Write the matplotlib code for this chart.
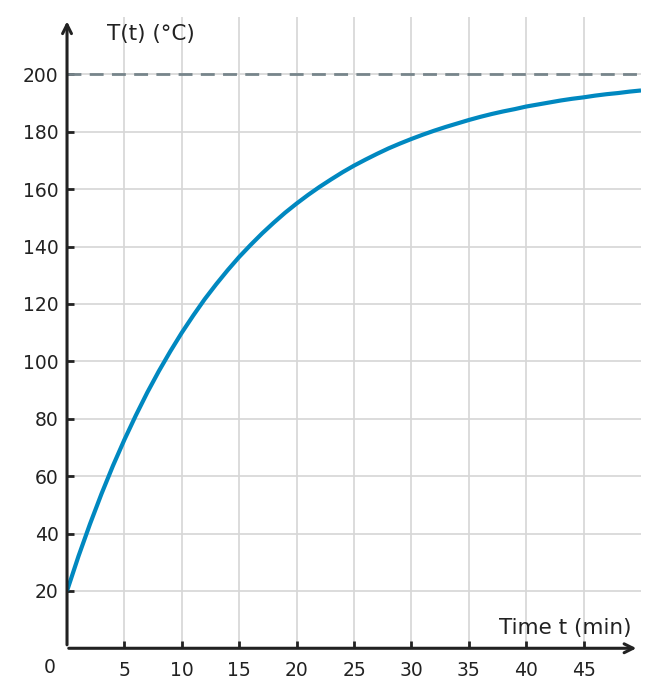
import matplotlib
matplotlib.use("Agg")
import matplotlib.pyplot as plt

# time in minutes and temperature
time_min = list(range(0, 51))
temp_c = [20.0, 32.1, 43.3, 53.8, 63.6, 72.7, 81.2, 89.2, 96.6, 103.5,
          110.0, 116.0, 121.7, 126.9, 131.8, 136.4, 140.6, 144.6, 148.3, 151.8,
          155.0, 158.0, 160.8, 163.4, 165.9, 168.2, 170.3, 172.3, 174.2, 175.9,
          177.5, 179.0, 180.4, 181.7, 182.9, 184.1, 185.2, 186.2, 187.1, 187.9,
          188.8, 189.5, 190.2, 190.9, 191.5, 192.0, 192.6, 193.1, 193.5, 194.0,
          194.4]
ambient = 200

x_ticks = [5, 10, 15, 20, 25, 30, 35, 40, 45]
y_ticks = [20, 40, 60, 80, 100, 120, 140, 160, 180, 200]

plt.rcParams['font.family'] = ['DejaVu Sans']
fig = plt.figure(figsize=(6.59, 6.97), dpi=100)
ax = fig.add_axes([0.1017, 0.0699, 0.8710, 0.9057])
ax.set_xlim(0, 50)
ax.set_ylim(0, 220)

ax.set_xticks(x_ticks)
ax.set_yticks(y_ticks)
ax.grid(True, color='#d6d6d6', linewidth=1.2)
ax.set_axisbelow(True)
for s in ax.spines.values():
    s.set_visible(False)
ax.tick_params(axis='both', direction='in', length=5, width=2, color='#222222',
               labelsize=13.5, labelcolor='#222222')
ax.tick_params(axis='x', pad=9)
ax.tick_params(axis='y', pad=6)

ax.axhline(ambient, color='#77858b', linestyle=(0, (5, 3)), linewidth=2, zorder=2)
ax.plot(time_min, temp_c, color='#0088c0', linewidth=3, zorder=3, solid_capstyle='butt')

# axes with arrows
ax.annotate('', xy=(0, 218.5), xytext=(0, 1.2),
            arrowprops=dict(arrowstyle='->', color='#222222', lw=2.2,
                            shrinkA=0, shrinkB=0, mutation_scale=16),
            annotation_clip=False, zorder=5)
ax.annotate('', xy=(49.6, 0), xytext=(0.15, 0),
            arrowprops=dict(arrowstyle='->', color='#222222', lw=2.2,
                            shrinkA=0, shrinkB=0, mutation_scale=16),
            annotation_clip=False, zorder=5)

ax.text(3.5, 214, 'T(t) (°C)', fontsize=15.5, color='#222222', va='center', ha='left')
ax.text(49.2, 7.1, 'Time t (min)', fontsize=15.5, color='#222222', va='center', ha='right')
ax.text(-1.5, -6.6, '0', fontsize=13.5, color='#222222', va='center', ha='center',
        clip_on=False)

fig.savefig('out.png', dpi=100)
